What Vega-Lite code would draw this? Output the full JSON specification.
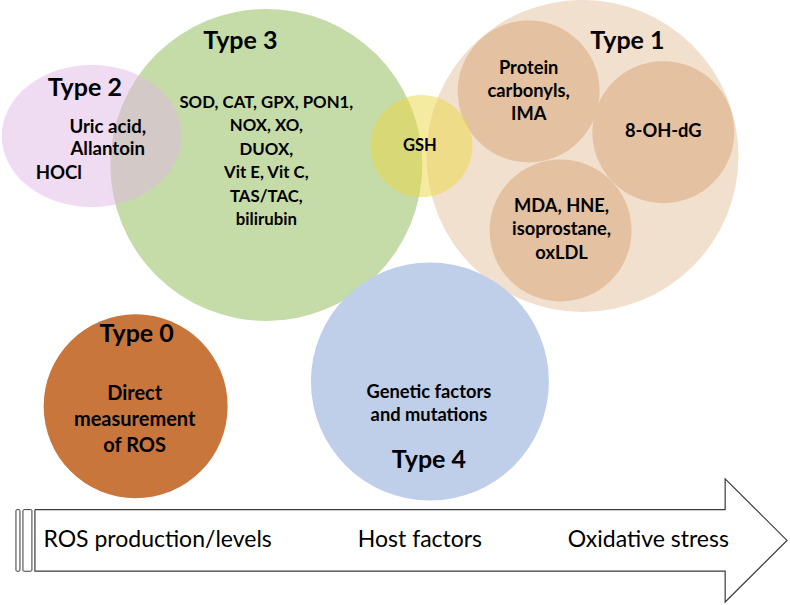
{
  "$schema": "https://vega.github.io/schema/vega-lite/v6.json",
  "width": 790,
  "height": 605,
  "autosize": {"type": "fit", "contains": "padding"},
  "padding": 0,
  "background": "white",
  "view": {"stroke": null},
  "datasets": {
    "circles": [
      {"name": "Type 3", "group": "green", "kind": "circle", "x": 267, "y": 163, "d": 312},
      {"name": "Type 1", "group": "peachLight", "kind": "circle", "x": 584, "y": 154, "d": 312},
      {"name": "Protein carbonyls", "group": "peach", "kind": "circle", "x": 530, "y": 89, "d": 142},
      {"name": "8-OH-dG", "group": "peach", "kind": "circle", "x": 665, "y": 130, "d": 142},
      {"name": "MDA", "group": "peach", "kind": "circle", "x": 562, "y": 229, "d": 142},
      {"name": "Type 0", "group": "orange", "kind": "circle", "x": 136, "y": 406, "d": 184},
      {"name": "Type 4", "group": "blue", "kind": "circle", "x": 431, "y": 381, "d": 238}
    ],
    "overlays": [
      {"name": "Type 2", "group": "pink", "kind": "ellipse", "x": 92, "y": 134, "d": 180},
      {"name": "GSH", "group": "yellow", "kind": "circle", "x": 422.5, "y": 144, "d": 102}
    ],
    "titles": [
      {"t": "Type 3", "x": 241, "y": 38},
      {"t": "Type 2", "x": 85, "y": 86},
      {"t": "Type 1", "x": 629, "y": 38},
      {"t": "Type 0", "x": 137, "y": 333},
      {"t": "Type 4", "x": 430, "y": 460}
    ],
    "labels": [
      {"t": "SOD, CAT, GPX, PON1,", "box": "Type 3", "x": 267, "y": 101},
      {"t": "NOX, XO,", "box": "Type 3", "x": 267, "y": 124},
      {"t": "DUOX,", "box": "Type 3", "x": 267, "y": 148},
      {"t": "Vit E, Vit C,", "box": "Type 3", "x": 267, "y": 171},
      {"t": "TAS/TAC,", "box": "Type 3", "x": 267, "y": 195},
      {"t": "bilirubin", "box": "Type 3", "x": 267, "y": 218},
      {"t": "Uric acid,", "box": "Type 2", "x": 108, "y": 125},
      {"t": "Allantoin", "box": "Type 2", "x": 108, "y": 147},
      {"t": "HOCl", "box": "Type 2", "x": 59, "y": 171},
      {"t": "GSH", "box": "GSH", "x": 421, "y": 144},
      {"t": "Protein", "box": "Type 1", "x": 530, "y": 66},
      {"t": "carbonyls,", "box": "Type 1", "x": 530, "y": 90},
      {"t": "IMA", "box": "Type 1", "x": 530, "y": 113},
      {"t": "8-OH-dG", "box": "Type 1", "x": 665, "y": 130},
      {"t": "MDA, HNE,", "box": "Type 1", "x": 563, "y": 205},
      {"t": "isoprostane,", "box": "Type 1", "x": 563, "y": 229},
      {"t": "oxLDL", "box": "Type 1", "x": 563, "y": 253},
      {"t": "Direct", "box": "Type 0", "x": 135, "y": 394},
      {"t": "measurement", "box": "Type 0", "x": 135, "y": 420},
      {"t": "of ROS", "box": "Type 0", "x": 135, "y": 446},
      {"t": "Genetic factors", "box": "Type 4", "x": 430, "y": 393},
      {"t": "and mutations", "box": "Type 4", "x": 430, "y": 416}
    ],
    "arrow": [
      {"i": 0, "x": 35, "y": 510},
      {"i": 1, "x": 727, "y": 510},
      {"i": 2, "x": 727, "y": 479},
      {"i": 3, "x": 789, "y": 541},
      {"i": 4, "x": 727, "y": 603},
      {"i": 5, "x": 727, "y": 572},
      {"i": 6, "x": 35, "y": 572},
      {"i": 7, "x": 35, "y": 510}
    ],
    "bars": [
      {"x": 16, "x2": 20, "y": 510, "y2": 572},
      {"x": 23, "x2": 32, "y": 510, "y2": 572}
    ],
    "stages": [
      {"t": "ROS production/levels", "x": 158, "y": 541},
      {"t": "Host factors", "x": 421, "y": 541},
      {"t": "Oxidative stress", "x": 650, "y": 541}
    ]
  },
  "encoding": {
    "x": {"field": "x", "type": "quantitative", "scale": {"domain": [0, 790], "nice": false, "zero": false}, "axis": null},
    "y": {"field": "y", "type": "quantitative", "scale": {"domain": [0, 605], "nice": false, "zero": false, "reverse": true}, "axis": null}
  },
  "layer": [
    {
      "data": {"name": "circles"},
      "mark": {"type": "point", "filled": true, "opacity": 1, "strokeWidth": 0},
      "encoding": {
        "size": {"field": "d", "type": "quantitative", "scale": {"type": "pow", "exponent": 2, "domain": [0, 100], "range": [0, 10000]}, "legend": null},
        "shape": {"field": "kind", "type": "nominal", "scale": {"domain": ["circle", "ellipse"], "range": ["circle", "M-1,0A1,0.789,0,1,0,1,0A1,0.789,0,1,0,-1,0Z"]}, "legend": null},
        "color": {"field": "group", "type": "nominal", "scale": {"domain": ["green", "peachLight", "peach", "orange", "blue", "pink", "yellow"], "range": ["#c5dba8", "#f2e0cf", "#e4c1a0", "#c8763c", "#bfcfea", "#e1b9e5", "#ebd741"]}, "legend": null}
      }
    },
    {
      "data": {"name": "overlays"},
      "mark": {"type": "point", "filled": true, "opacity": 0.5, "strokeWidth": 0},
      "encoding": {
        "size": {"field": "d", "type": "quantitative", "scale": {"type": "pow", "exponent": 2, "domain": [0, 100], "range": [0, 10000]}, "legend": null},
        "shape": {"field": "kind", "type": "nominal", "scale": {"domain": ["circle", "ellipse"], "range": ["circle", "M-1,0A1,0.789,0,1,0,1,0A1,0.789,0,1,0,-1,0Z"]}, "legend": null},
        "color": {"field": "group", "type": "nominal", "scale": {"domain": ["green", "peachLight", "peach", "orange", "blue", "pink", "yellow"], "range": ["#c5dba8", "#f2e0cf", "#e4c1a0", "#c8763c", "#bfcfea", "#e1b9e5", "#ebd741"]}, "legend": null}
      }
    },
    {
      "data": {"name": "titles"},
      "mark": {"type": "text", "font": "Lato", "fontWeight": "bold", "fontSize": 25, "baseline": "middle", "align": "center", "color": "#000000"},
      "encoding": {"text": {"field": "t"}}
    },
    {
      "data": {"name": "labels"},
      "mark": {"type": "text", "font": "Lato", "fontWeight": "bold", "baseline": "middle", "align": "center", "color": "#000000"},
      "encoding": {
        "text": {"field": "t"},
        "size": {"field": "box", "type": "nominal", "scale": {"type": "ordinal", "domain": ["Type 3", "GSH", "Type 1", "Type 2", "Type 4", "Type 0"], "range": [16.8, 16.5, 18.3, 18.6, 18.3, 20]}, "legend": null}
      }
    },
    {
      "data": {"name": "bars"},
      "mark": {"type": "rect", "fill": "white", "stroke": "#3a3a3a", "strokeWidth": 1, "cornerRadius": 1},
      "encoding": {
        "x2": {"field": "x2"},
        "y2": {"field": "y2"}
      }
    },
    {
      "data": {"name": "arrow"},
      "mark": {"type": "line", "stroke": "#3a3a3a", "strokeWidth": 1.2, "strokeJoin": "miter"},
      "encoding": {"order": {"field": "i", "type": "quantitative"}}
    },
    {
      "data": {"name": "stages"},
      "mark": {"type": "text", "font": "Lato", "fontSize": 23, "baseline": "middle", "align": "center", "color": "#000000"},
      "encoding": {"text": {"field": "t"}}
    }
  ]
}
